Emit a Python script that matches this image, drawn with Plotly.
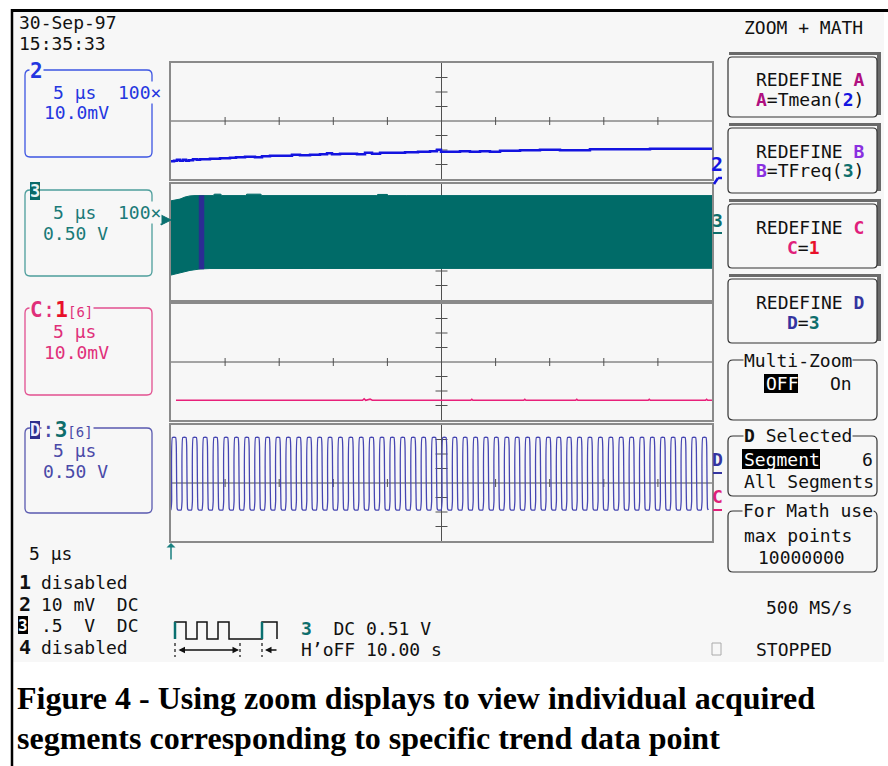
import plotly.graph_objects as go

W, H = 888, 766
MONO = "DejaVu Sans Mono"
SERIF = "Liberation Serif"

# ---------------- data ----------------
time_window_us = [0, 50]          # 10 div x 5 us
volts_per_div = [10, 0.5, 10, 0.5]  # panel 1..4 (mV, V, mV, V)

# Panel 1: channel 2 trend (mV)
ch2_t = [0.0, 0.28, 0.55, 0.83, 1.11, 1.39, 1.66, 2.03, 2.40, 2.68, 3.60, 4.53, 5.45, 6.01,
         6.84, 7.76, 8.41, 9.15, 10.54, 11.18, 11.92, 12.85, 13.77, 14.42, 14.88, 15.62,
         16.54, 17.19, 17.93, 18.58, 19.32, 20.70, 21.63, 22.83, 23.94, 24.58, 24.95,
         25.79, 26.71, 27.63, 28.56, 29.48, 30.41, 32.26, 34.10, 35.95, 38.72, 41.50,
         44.27, 47.04, 50.0]
ch2_mV = [-27.7, -27.4, -26.7, -27.4, -26.7, -27.4, -27.0, -26.3, -26.7, -26.3, -26.0, -25.7,
          -25.3, -25.0, -24.6, -25.0, -24.3, -23.9, -23.9, -23.2, -23.6, -23.2, -22.9, -22.2,
          -22.9, -22.6, -22.6, -22.9, -21.9, -22.6, -21.9, -21.9, -21.5, -21.2, -20.8, -19.8,
          -21.2, -21.2, -20.8, -21.2, -20.8, -21.2, -20.5, -20.1, -19.8, -20.1, -19.4, -19.4,
          -19.1, -19.1, -19.1]

# Panel 2: channel 3 (dense burst) envelope (V)
ch3_top_t = [0, 0.37, 0.83, 1.29, 1.76, 2.22, 3.9, 4.0, 4.6, 4.7, 6.9, 7.0, 8.3, 8.4,
             19.0, 19.1, 20.0, 20.1, 21.7, 21.8, 50]
ch3_top_V = [1.42, 1.45, 1.48, 1.55, 1.59, 1.60, 1.60, 1.65, 1.65, 1.60, 1.60, 1.65, 1.65,
             1.60, 1.60, 1.64, 1.64, 1.60, 1.62, 1.60, 1.60]
ch3_bot_t = [0, 0.37, 0.83, 1.29, 1.76, 2.68, 3.6, 50]
ch3_bot_V = [-1.14, -1.10, -1.05, -1.02, -0.98, -0.93, -0.915, -0.907]
seg6_t = [2.6, 3.05]
seg6_V = [-0.93, 1.60]

# Panel 3: math C = 1 (mV)
mathC_t = [0.46, 17.70, 17.85, 18.00, 18.40, 18.60, 27.70, 27.80, 27.90, 32.60, 32.70, 32.80,
           37.40, 37.50, 37.60, 44.10, 44.20, 44.30, 49.40, 49.50, 49.60, 50.0]
mathC_mV = [-26.4, -26.4, -25.4, -26.4, -25.6, -26.4, -26.4, -25.7, -26.4, -26.4, -25.7, -26.4,
            -26.4, -25.7, -26.4, -26.4, -25.7, -26.4, -26.4, -25.7, -26.4, -26.4]

# Panel 4: math D = segment 6 of channel 3 (V) -- rising edge times (us)
mathD_rise_us = [0.03, 0.99, 1.95, 2.91, 3.87, 4.84, 5.80, 6.76, 7.72, 8.68, 9.64, 10.60,
                 11.56, 12.52, 13.49, 14.45, 15.41, 16.37, 17.33, 18.29, 19.25, 20.21, 21.17,
                 22.14, 23.10, 24.06, 25.02, 25.98, 26.94, 27.90, 28.86, 29.82, 30.79, 31.75,
                 32.71, 33.67, 34.63, 35.59, 36.55, 37.51, 38.47, 39.44, 40.40, 41.36, 42.32,
                 43.28, 44.24, 45.20, 46.16, 47.12, 48.09, 49.05]
mathD_high_V = 1.57
mathD_low_V = -0.93
mathD_half_period_us = 0.48

# ---------------- helpers ----------------
def px(x):
    return x / W


def py(y):
    return 1 - y / H


# panel geometry (pixels)
PX0, PX1 = 171, 712
panels_y = [(63, 179), (184, 300), (304, 420), (425, 541)]

fig = go.Figure()

shapes = []
annotations = []


def ann(x, y, text, size=18, color="#111111", xanchor="left", family=MONO, bg=None, **kw):
    d = dict(x=px(x), y=py(y), xref="paper", yref="paper", text=text, showarrow=False,
             xanchor=xanchor, yanchor="middle",
             font=dict(family=family, size=size, color=color), borderpad=0)
    if bg:
        d["bgcolor"] = bg
    d.update(kw)
    annotations.append(d)


def arrow(x, y, dx, dy, color="#111111", width=1.3, head=2, side="end"):
    annotations.append(dict(x=px(x), y=py(y), ax=dx, ay=dy, xref="paper", yref="paper",
                            axref="pixel", ayref="pixel", text="", showarrow=True,
                            arrowhead=head, arrowside=side, arrowsize=1, arrowwidth=width,
                            arrowcolor=color))


def rect(x0, y0, x1, y1, line=None, fill=None, width=1, layer="above"):
    shapes.append(dict(type="rect", xref="paper", yref="paper", x0=px(x0), x1=px(x1),
                       y0=py(y1), y1=py(y0),
                       line=dict(color=line or "rgba(0,0,0,0)", width=width if line else 0),
                       fillcolor=fill or "rgba(0,0,0,0)", layer=layer))


def line(x0, y0, x1, y1, color, width=1, dash=None, layer="above"):
    d = dict(type="line", xref="paper", yref="paper", x0=px(x0), y0=py(y0), x1=px(x1),
             y1=py(y1), line=dict(color=color, width=width), layer=layer)
    if dash:
        d["line"]["dash"] = dash
    shapes.append(d)


def rrect(x0, y0, x1, y1, color, width=1.3, r=5):
    pts = [
        ("M", x0 + r, y0), ("L", x1 - r, y0), ("Q", x1, y0, x1, y0 + r), ("L", x1, y1 - r),
        ("Q", x1, y1, x1 - r, y1), ("L", x0 + r, y1), ("Q", x0, y1, x0, y1 - r),
        ("L", x0, y0 + r), ("Q", x0, y0, x0 + r, y0)]
    s = ""
    for p in pts:
        if p[0] == "Q":
            s += "Q%.5f,%.5f %.5f,%.5f " % (px(p[1]), py(p[2]), px(p[3]), py(p[4]))
        else:
            s += "%s%.5f,%.5f " % (p[0], px(p[1]), py(p[2]))
    s += "Z"
    shapes.append(dict(type="path", xref="paper", yref="paper", path=s,
                       line=dict(color=color, width=width), layer="above"))


# ---------------- background & frame ----------------
BG = "#f7f7f7"
rect(13, 12, 884, 662, fill=BG, layer="below")
line(11, 10.5, 888, 10.5, "#000000", 3)
line(12, 9, 12, 766, "#000000", 2.5)

# ---------------- axes for the four panels ----------------
layout_axes = {}
for i, (y0, y1) in enumerate(panels_y):
    n = "" if i == 0 else str(i + 1)
    vpd = volts_per_div[i]
    layout_axes["xaxis" + n] = dict(domain=[px(PX0), px(PX1)], range=time_window_us,
                                    anchor="y" + n, showgrid=False, zeroline=False,
                                    showticklabels=False, ticks="", showline=True,
                                    mirror=True, linecolor="#8a8a8a", linewidth=2)
    layout_axes["yaxis" + n] = dict(domain=[py(y1), py(y0)], range=[-4 * vpd, 4 * vpd],
                                    anchor="x" + n, showgrid=False, zeroline=False,
                                    showticklabels=False, ticks="", showline=True,
                                    mirror=True, linecolor="#8a8a8a", linewidth=2)
    # crosshair with division ticks
    cx, cy = [], []
    t_half = 6 / 10.82
    v_half = 4 / 14.5 * vpd
    cx += [0, 50, None, 25, 25, None]
    cy += [0, 0, None, -4 * vpd, 4 * vpd, None]
    for k in range(1, 10):
        if k == 5:
            continue
        cx += [5 * k, 5 * k, None]
        cy += [-v_half, v_half, None]
    for k in [-3, -2, -1, 1, 2, 3]:
        cx += [25 - t_half, 25 + t_half, None]
        cy += [k * vpd, k * vpd, None]
    fig.add_trace(go.Scatter(x=cx, y=cy, mode="lines", xaxis="x" + n, yaxis="y" + n,
                             line=dict(color="#505050", width=1), hoverinfo="skip",
                             showlegend=False))

# ---------------- data traces ----------------
fig.add_trace(go.Scatter(x=ch2_t, y=ch2_mV, mode="lines", line=dict(color="#1414e0", width=2.5,
                         shape="hv"), xaxis="x", yaxis="y", showlegend=False))

band_t = ch3_top_t + ch3_bot_t[::-1]
band_v = ch3_top_V + ch3_bot_V[::-1]
fig.add_trace(go.Scatter(x=band_t, y=band_v, mode="lines", fill="toself", fillcolor="#006b68",
                         line=dict(color="#006b68", width=1), xaxis="x2", yaxis="y2",
                         showlegend=False))
fig.add_trace(go.Scatter(x=[seg6_t[0], seg6_t[1], seg6_t[1], seg6_t[0], seg6_t[0]],
                         y=[seg6_V[0], seg6_V[0], seg6_V[1], seg6_V[1], seg6_V[0]],
                         mode="lines", fill="toself", fillcolor="#2c2c94",
                         line=dict(color="#2c2c94", width=0.5), xaxis="x2", yaxis="y2",
                         showlegend=False))

fig.add_trace(go.Scatter(x=mathC_t, y=mathC_mV, mode="lines", line=dict(color="#e8207a", width=1.6),
                         xaxis="x3", yaxis="y3", showlegend=False))

dx, dy = [0.0], [0.3]
for tr in mathD_rise_us:
    tf = tr + mathD_half_period_us
    dx += [tr - 0.05, tr + 0.03, tr + 0.1, tf - 0.08, tf - 0.02, tf + 0.06, tf + 0.13]
    dy += [mathD_low_V, mathD_low_V + 0.3, mathD_high_V, mathD_high_V,
           mathD_high_V - 0.3, mathD_low_V + 0.05, mathD_low_V]
dx = [min(max(v, 0), 50) for v in dx]
fig.add_trace(go.Scatter(x=dx, y=dy, mode="lines", line=dict(color="#4646b2", width=1.3,
                         shape="spline", smoothing=0.4),
                         xaxis="x4", yaxis="y4", showlegend=False))

# ---------------- header ----------------
ann(18, 22, "30-Sep-97")
ann(18, 44, "15:35:33")
ann(743, 27, "ZOOM + MATH")

# ---------------- left channel boxes ----------------
B2 = "#2436e0"
rrect(25, 70, 152, 157, "#3d55e2")
ann(29, 71, "<b>2</b>", size=21, color=B2, bg=BG)
ann(52, 92, "5 μs  100×", color=B2, bg=BG)
ann(43, 112, "10.0mV", color=B2)

T3 = "#1a7a78"
rrect(25, 190, 152, 276, "#4d9e9c")
rect(30, 182, 40, 200, fill="#0a6a68")
ann(35, 191, "<b>3</b>", size=17, color="#e8f4f4", xanchor="center")
ann(52, 212, "5 μs  100×", color=T3, bg=BG)
ann(42, 233, "0.50 V", color=T3)

PK = "#e0307a"
rrect(25, 308, 152, 395, "#e25090")
ann(29, 310, "<b>C</b>:<b><span style='color:#e8102a'>1</span></b>"
             "<span style='font-size:14px'>[6]</span>", size=21, color=PK, bg=BG)
ann(52, 331, "5 μs", color=PK)
ann(43, 352, "10.0mV", color=PK)

DB = "#4a4aa8"
rrect(25, 428, 152, 513, "#5a5ab0")
rect(30, 421, 40, 439, fill="#2e2e8e")
ann(35, 430, "<b>D</b>", size=17, color="#eeeeff", xanchor="center")
ann(41, 430, ":<b><span style='color:#0e6e6c'>3</span></b>"
             "<span style='font-size:14px'>[6]</span>", size=21, color=DB, bg=BG)
ann(52, 450, "5 μs", color=DB)
ann(42, 471, "0.50 V", color=DB)

# ---------------- lower left status ----------------
ann(28, 553, "5 μs")
ann(18, 582, "<b>1</b>", size=20)
ann(40, 582, "disabled")
ann(18, 604, "<b>2</b>", size=20)
ann(40, 604, "10 mV  DC")
rect(18, 616, 28, 634, fill="#000000")
ann(23, 625, "<b>3</b>", size=16, color="#ffffff", xanchor="center")
ann(40, 625, ".5  V  DC")
ann(18, 647, "<b>4</b>", size=20)
ann(40, 647, "disabled")

# trigger icon
trig_path = [(175, 639), (175, 622), (186, 622), (186, 639), (197, 639), (197, 622), (207, 622),
             (207, 639), (218, 639), (218, 622), (229, 622), (229, 639), (262, 639), (262, 622),
             (277, 622), (277, 639)]
s = "M" + " L".join("%.5f,%.5f" % (px(a), py(b)) for a, b in trig_path)
shapes.append(dict(type="path", xref="paper", yref="paper", path=s,
                   line=dict(color="#111111", width=1.5), layer="above"))
line(175, 622, 175, 639, "#0a7070", 2.5)
line(262, 622, 262, 639, "#0a7070", 2.5)
for xx in (175, 240, 262):
    line(xx, 643, xx, 657, "#111111", 1.2, dash="dot")
arrow(239, 650, -62, 0, side="end+start")
arrow(265, 650, 13, 0)
ann(300, 628, "<b><span style='color:#0e6e6c'>3</span></b>  DC 0.51 V")
ann(300, 649, "H’oFF 10.00 s")

# trigger arrow and ground marker
arrow(171, 543, 0, 18, color="#1a8080", width=1.5, head=1)
shapes.append(dict(type="path", xref="paper", yref="paper",
                   path="M%.5f,%.5f L%.5f,%.5f L%.5f,%.5f Z" % (px(161), py(215), px(171), py(220),
                                                                px(161), py(225)),
                   fillcolor="#0a7070", line=dict(color="#0a7070", width=1), layer="above"))

# right-side trace markers
ann(717, 164, "<b>2</b>", size=20, color="#1414e0", xanchor="center")
line(714, 184, 718, 178, "#1414e0", 2.5)
line(718, 178, 722, 178, "#1414e0", 2.5)
ann(717, 221, "<b>3</b>", size=18, color="#0e6e6c", xanchor="center")
line(713, 233, 722, 233, "#0e6e6c", 2)
ann(717, 459, "<b>D</b>", size=18, color="#3434a0", xanchor="center")
line(713, 473, 722, 473, "#3434a0", 2)
ann(717, 496, "<b>C</b>", size=18, color="#e0207a", xanchor="center")
line(713, 510, 722, 510, "#e0207a", 2)

# ---------------- right menu ----------------
def button(y0, y1, l1, l2, l2x=755):
    rect(729, y0 - 5, 881, y0 - 2, fill="#6a6a6a")
    rect(877, y0 - 4, 881, y1 - 2, fill="#6a6a6a")
    rrect(728, y0, 877, y1, "#333333", 1.2, r=4)
    ann(755, y0 + 23, l1)
    ann(l2x, y0 + 43, l2)


MA, VI, RD = "#b01080", "#8a30e0", "#e8102a"
button(57, 117, "REDEFINE <b><span style='color:%s'>A</span></b>" % MA,
       "<b><span style='color:%s'>A</span></b>=Tmean(<b><span style='color:#1414e0'>2</span></b>)" % MA)
button(128, 193, "REDEFINE <b><span style='color:%s'>B</span></b>" % VI,
       "<b><span style='color:%s'>B</span></b>=TFreq(<b><span style='color:#0e6e6c'>3</span></b>)" % VI)
button(204, 268, "REDEFINE <b><span style='color:#e0207a'>C</span></b>",
       "<b><span style='color:#e0207a'>C</span></b>=<b><span style='color:%s'>1</span></b>" % RD, l2x=786)
button(279, 343, "REDEFINE <b><span style='color:#3434a0'>D</span></b>",
       "<b><span style='color:#3434a0'>D</span></b>=<b><span style='color:#0e6e6c'>3</span></b>", l2x=786)

rrect(728, 360, 877, 420, "#333333", 1.2, r=5)
ann(743, 360, "Multi-Zoom", bg=BG)
rect(764, 374, 798, 393, fill="#000000")
ann(765, 383, "OFF", color="#ffffff")
ann(829, 383, "On")

rrect(728, 436, 877, 496, "#333333", 1.2, r=5)
ann(743, 436, "<b>D</b> Selected", bg=BG)
rect(742, 449, 820, 469, fill="#000000")
ann(743, 459, "Segment", color="#ffffff")
ann(861, 459, "6")
ann(743, 481, "All Segments")

rrect(728, 511, 877, 572, "#333333", 1.2, r=5)
ann(742, 511, "For Math use", bg=BG)
ann(743, 535, "max points")
ann(757, 557, "10000000")

ann(765, 607, "500 MS/s")
rect(712, 643, 721, 655, line="#aaaaaa", width=1)
ann(755, 649, "STOPPED")

# ---------------- caption ----------------
ann(16, 698, "<b>Figure 4 - Using zoom displays to view individual acquired</b>", size=32,
    family=SERIF, color="#000000")
ann(16, 738, "<b>segments corresponding to specific trend data point</b>", size=32,
    family=SERIF, color="#000000")

fig.update_layout(width=W, height=H, margin=dict(l=0, r=0, t=0, b=0),
                  paper_bgcolor="#ffffff", plot_bgcolor=BG, shapes=shapes,
                  annotations=annotations, showlegend=False, **layout_axes)

fig.write_html("out.html", config={"displayModeBar": False},
               post_script="document.body.style.margin='0';"
                           "document.body.style.overflow='hidden';")
